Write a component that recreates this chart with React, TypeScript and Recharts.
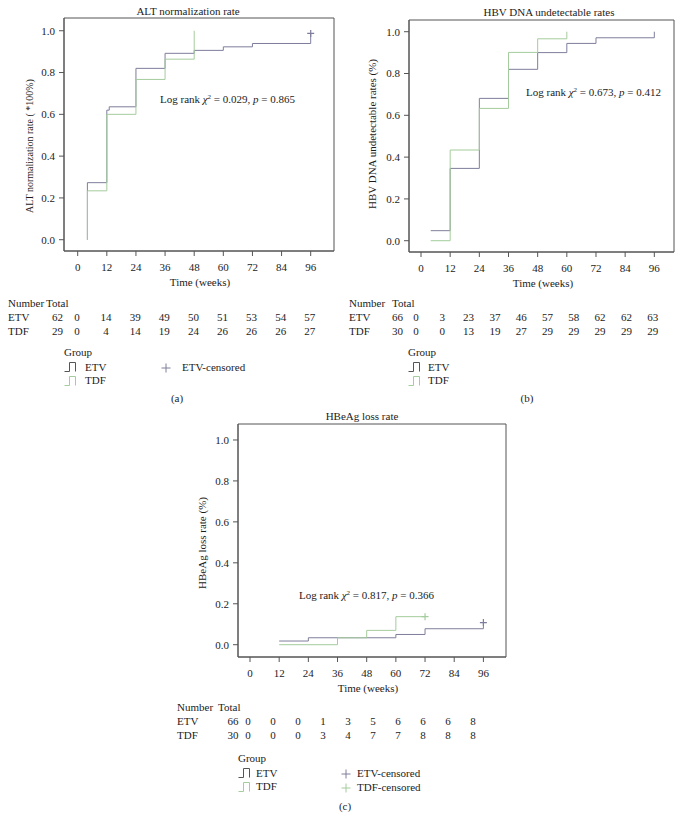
import React from 'react';
import { ComposedChart, Line, Scatter, XAxis, YAxis, ReferenceArea } from 'recharts';

const FONT = '"Liberation Serif", "Times New Roman", serif';
const ETV_COLOR = '#7e7e9c';
const TDF_COLOR = '#a4cc9c';
const INK = '#1c1c1c';

const weekTicks = [0, 12, 24, 36, 48, 60, 72, 84, 96];
const rateTicks = [0, 0.2, 0.4, 0.6, 0.8, 1.0];

// (a) ALT normalization
const altEtvWeeks = [4, 4, 12, 13, 24, 36, 48, 60, 72, 96];
const altEtvRate = [0, 0.273, 0.62, 0.636, 0.82, 0.892, 0.906, 0.923, 0.939, 0.987];
const altTdfWeeks = [4, 4, 12, 24, 36, 48];
const altTdfRate = [0, 0.234, 0.6, 0.767, 0.864, 1.0];
const altEtvCensorWeeks = [96];
const altEtvCensorRate = [0.987];
const altRiskEtv = [0, 14, 39, 49, 50, 51, 53, 54, 57];
const altRiskTdf = [0, 4, 14, 19, 24, 26, 26, 26, 27];
const altTotals = [62, 29];

// (b) HBV DNA undetectable
const hbvEtvWeeks = [4, 12, 24, 36, 48, 60, 72, 96];
const hbvEtvRate = [0.048, 0.346, 0.681, 0.82, 0.9, 0.944, 0.971, 1.0];
const hbvTdfWeeks = [4, 12, 24, 36, 48, 60];
const hbvTdfRate = [0, 0.434, 0.633, 0.901, 0.966, 1.0];
const hbvRiskEtv = [0, 3, 23, 37, 46, 57, 58, 62, 62, 63];
const hbvRiskTdf = [0, 0, 13, 19, 27, 29, 29, 29, 29, 29];
const hbvTotals = [66, 30];

// (c) HBeAg loss
const hbeEtvWeeks = [12, 24, 60, 72, 96];
const hbeEtvRate = [0.018, 0.034, 0.05, 0.078, 0.108];
const hbeTdfWeeks = [12, 36, 48, 60, 72];
const hbeTdfRate = [0, 0.034, 0.07, 0.137, 0.137];
const hbeEtvCensorWeeks = [96];
const hbeEtvCensorRate = [0.108];
const hbeTdfCensorWeeks = [72];
const hbeTdfCensorRate = [0.137];
const hbeRiskEtv = [0, 0, 0, 1, 3, 5, 6, 6, 6, 8];
const hbeRiskTdf = [0, 0, 0, 3, 4, 7, 7, 8, 8, 8];
const hbeTotals = [66, 30];

const toPoints = (weeks: number[], rates: number[]) =>
  weeks.map((w, i) => ({ week: w, rate: rates[i] }));

const plusShape = (color: string) => (props: any) => {
  const { cx, cy } = props;
  return (
    <path
      d={`M${cx - 3.5},${cy}H${cx + 3.5}M${cx},${cy - 3.5}V${cy + 3.5}`}
      stroke={color}
      strokeWidth={1.2}
      fill="none"
    />
  );
};

type Frame = { left: number; top: number; width: number; height: number };

const Panel = ({ frame, xDomain, yDomain, etv, tdf, etvCensor, tdfCensor }: {
  frame: Frame;
  xDomain: [number, number];
  yDomain: [number, number];
  etv: { week: number; rate: number }[];
  tdf: { week: number; rate: number }[];
  etvCensor?: { week: number; rate: number }[];
  tdfCensor?: { week: number; rate: number }[];
}) => {
  const yAxisW = 60;
  const tickStyle = { fontSize: 11, fill: INK, fontFamily: FONT };
  return (
    <div style={{ position: 'absolute', left: frame.left - yAxisW, top: frame.top - 10 }}>
      <ComposedChart
        width={yAxisW + frame.width + 10}
        height={10 + frame.height + 30}
        margin={{ top: 10, right: 10, bottom: 0, left: 0 }}
      >
        <XAxis
          dataKey="week"
          type="number"
          domain={xDomain}
          allowDataOverflow
          ticks={weekTicks}
          interval={0}
          tickSize={5}
          tickMargin={7}
          height={30}
          stroke="#555"
          tick={tickStyle}
        />
        <YAxis
          dataKey="rate"
          type="number"
          domain={yDomain}
          allowDataOverflow
          ticks={rateTicks}
          interval={0}
          width={yAxisW}
          tickSize={5}
          tickMargin={4}
          stroke="#555"
          tick={tickStyle}
          tickFormatter={(v: number) => v.toFixed(1)}
        />
        <ReferenceArea
          x1={xDomain[0]}
          x2={xDomain[1]}
          y1={yDomain[0]}
          y2={yDomain[1]}
          fill="none"
          stroke="#555"
          strokeWidth={1}
          ifOverflow="visible"
        />
        <Line data={etv} dataKey="rate" type="stepAfter" stroke={ETV_COLOR} strokeWidth={1} dot={false} isAnimationActive={false} />
        <Line data={tdf} dataKey="rate" type="stepAfter" stroke={TDF_COLOR} strokeWidth={1} dot={false} isAnimationActive={false} />
        {etvCensor && (
          <Scatter data={etvCensor} dataKey="rate" shape={plusShape(ETV_COLOR)} isAnimationActive={false} />
        )}
        {tdfCensor && (
          <Scatter data={tdfCensor} dataKey="rate" shape={plusShape(TDF_COLOR)} isAnimationActive={false} />
        )}
      </ComposedChart>
    </div>
  );
};

const Txt = ({ x, y, children, align = 'left', size = 11, rotate = false }: any) => {
  let transform = 'translateY(-50%)';
  if (align === 'center') transform = 'translate(-50%, -50%)';
  if (rotate) transform = 'translate(-50%, -50%) rotate(-90deg)';
  return (
    <div
      style={{
        position: 'absolute',
        left: x,
        top: y,
        transform,
        fontSize: size,
        lineHeight: 1,
        whiteSpace: 'nowrap',
        color: INK,
        fontFamily: FONT,
      }}
    >
      {children}
    </div>
  );
};

const LogRank = ({ x, y, chi, p }: { x: number; y: number; chi: string; p: string }) => (
  <Txt x={x} y={y}>
    Log rank <i>χ</i>
    <sup style={{ fontSize: 7, verticalAlign: 4 }}>2</sup> = {chi}, <i>p</i> = {p}
  </Txt>
);

const RiskTable = ({ numberX, totalX, totalValX, colStart, colStep, y, totals, etv, tdf }: any) => (
  <>
    <Txt x={numberX} y={y}>Number</Txt>
    <Txt x={totalX} y={y}>Total</Txt>
    <Txt x={numberX} y={y + 14}>ETV</Txt>
    <Txt x={numberX} y={y + 27.5}>TDF</Txt>
    <Txt x={totalValX} y={y + 14} align="center">{totals[0]}</Txt>
    <Txt x={totalValX} y={y + 27.5} align="center">{totals[1]}</Txt>
    {etv.map((v: number, i: number) => (
      <Txt key={'e' + i} x={colStart + i * colStep} y={y + 14} align="center">{v}</Txt>
    ))}
    {tdf.map((v: number, i: number) => (
      <Txt key={'t' + i} x={colStart + i * colStep} y={y + 27.5} align="center">{v}</Txt>
    ))}
  </>
);

const StepIcon = ({ x, y, color }: { x: number; y: number; color: string }) => (
  <svg style={{ position: 'absolute', left: x, top: y - 6 }} width={14} height={12}>
    <path d="M0.5,10.5H5.5V1.5H11.5V10.5" stroke={color} strokeWidth={1} fill="none" />
  </svg>
);

const PlusIcon = ({ x, y, color }: { x: number; y: number; color: string }) => (
  <svg style={{ position: 'absolute', left: x - 5, top: y - 5 }} width={10} height={10}>
    <path d="M0.5,5H9.5M5,0.5V9.5" stroke={color} strokeWidth={1} fill="none" />
  </svg>
);

const Legend = ({ x, y, textDx, censored }: { x: number; y: number; textDx: number; censored?: { x: number; textX: number; items: [string, string][] } }) => (
  <>
    <Txt x={x} y={y}>Group</Txt>
    <StepIcon x={x} y={y + 15} color={'#555'} />
    <Txt x={x + textDx} y={y + 14.5}>ETV</Txt>
    <StepIcon x={x} y={y + 28.5} color={TDF_COLOR} />
    <Txt x={x + textDx} y={y + 28}>TDF</Txt>
    {censored &&
      censored.items.map(([label, color], i) => (
        <React.Fragment key={label}>
          <PlusIcon x={censored.x} y={y + 15.5 + i * 14} color={color} />
          <Txt x={censored.textX} y={y + 15 + i * 14}>{label}</Txt>
        </React.Fragment>
      ))}
  </>
);

export default function App() {
  return (
    <div style={{ position: 'absolute', left: 0, top: 0, width: 685, height: 817, background: '#fff', fontFamily: FONT }}>
      {/* (a) */}
      <Txt x={188} y={11} align="center">ALT normalization rate</Txt>
      <Txt x={30} y={146} rotate size={10}>ALT normalization rate ( *100%)</Txt>
      <Panel
        frame={{ left: 64, top: 18, width: 270, height: 233 }}
        xDomain={[-5.64, 105.6]}
        yDomain={[-0.054, 1.061]}
        etv={toPoints(altEtvWeeks, altEtvRate)}
        tdf={toPoints(altTdfWeeks, altTdfRate)}
        etvCensor={toPoints(altEtvCensorWeeks, altEtvCensorRate)}
      />
      <LogRank x={160} y={99} chi="0.029" p="0.865" />
      <Txt x={200} y={282} align="center">Time (weeks)</Txt>
      <RiskTable numberX={8} totalX={46} totalValX={57.5} colStart={77} colStep={29.1} y={303} totals={altTotals} etv={altRiskEtv} tdf={altRiskTdf} />
      <Legend x={64} y={352} textDx={21} censored={{ x: 166, textX: 182, items: [['ETV-censored', ETV_COLOR]] }} />
      <Txt x={177} y={398} align="center">(a)</Txt>

      {/* (b) */}
      <Txt x={549} y={12} align="center">HBV DNA undetectable rates</Txt>
      <Txt x={372} y={134} rotate>HBV DNA undetectable rates (%)</Txt>
      <Panel
        frame={{ left: 409, top: 20, width: 265, height: 232 }}
        xDomain={[-4.94, 104.1]}
        yDomain={[-0.054, 1.056]}
        etv={toPoints(hbvEtvWeeks, hbvEtvRate)}
        tdf={toPoints(hbvTdfWeeks, hbvTdfRate)}
      />
      <LogRank x={526} y={92} chi="0.673" p="0.412" />
      <Txt x={543} y={283} align="center">Time (weeks)</Txt>
      <RiskTable numberX={349} totalX={392} totalValX={397.5} colStart={416} colStep={26.3} y={303} totals={hbvTotals} etv={hbvRiskEtv} tdf={hbvRiskTdf} />
      <Legend x={408} y={352} textDx={20} />
      <Txt x={527} y={398} align="center">(b)</Txt>

      {/* (c) */}
      <Txt x={362} y={416} align="center">HBeAg loss rate</Txt>
      <Txt x={202} y={543} rotate>HBeAg loss rate (%)</Txt>
      <Panel
        frame={{ left: 238, top: 424, width: 268, height: 233 }}
        xDomain={[-4.94, 105.3]}
        yDomain={[-0.06, 1.078]}
        etv={toPoints(hbeEtvWeeks, hbeEtvRate)}
        tdf={toPoints(hbeTdfWeeks, hbeTdfRate)}
        etvCensor={toPoints(hbeEtvCensorWeeks, hbeEtvCensorRate)}
        tdfCensor={toPoints(hbeTdfCensorWeeks, hbeTdfCensorRate)}
      />
      <LogRank x={299} y={595} chi="0.817" p="0.366" />
      <Txt x={368} y={688} align="center">Time (weeks)</Txt>
      <RiskTable numberX={177} totalX={218} totalValX={233} colStart={248} colStep={25} y={707} totals={hbeTotals} etv={hbeRiskEtv} tdf={hbeRiskTdf} />
      <Legend
        x={238}
        y={758}
        textDx={18}
        censored={{ x: 346, textX: 357, items: [['ETV-censored', ETV_COLOR], ['TDF-censored', TDF_COLOR]] }}
      />
      <Txt x={345} y={806} align="center">(c)</Txt>
    </div>
  );
}
